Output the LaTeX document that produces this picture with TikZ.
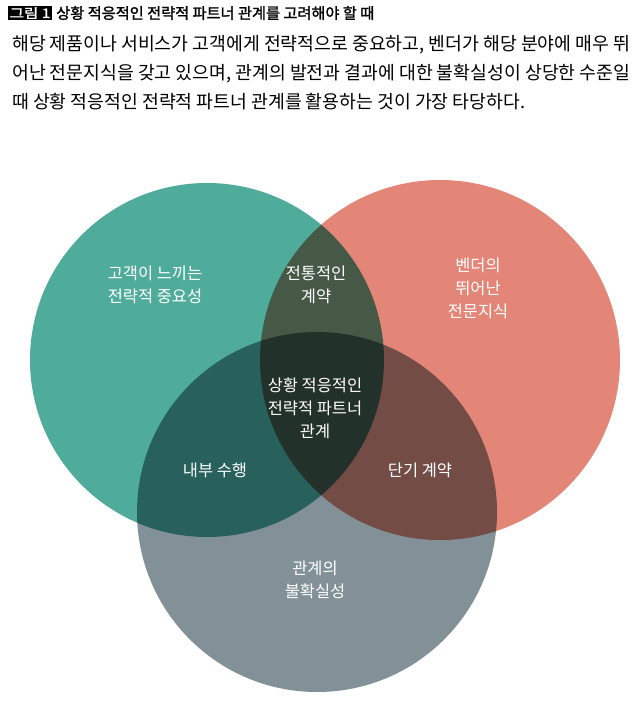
\documentclass[tikz,border=0pt]{standalone}
\usepackage{fontspec}
\usetikzlibrary{positioning}
\setmainfont{Noto Sans CJK KR}
\newfontfamily\krbold{Noto Sans CJK KR}[FakeBold=1.5]
\tikzset{
  venn/.style={draw=none,blend mode=multiply},
  label/.style={text=white,align=center,font=\fontsize{16.5}{23}\selectfont},
  body/.style={anchor=west,inner sep=0pt,font=\fontsize{17.5}{20}\selectfont}
}
\begin{document}
\begin{tikzpicture}[x=1bp,y=-1bp]
        \useasboundingbox (0,0) rectangle (640,705);
        \fill[white] (0,0) rectangle (640,705);

        % title
        \node[fill=black,text=white,inner sep=1.5pt,anchor=west,font=\krbold\fontsize{13}{14}\selectfont] (fig) at (8,13) {\scalebox{1.2}[1]{그림 1}};
        \node[right=4bp of fig,inner sep=0pt,font=\krbold\fontsize{13}{14}\selectfont] (title) {\resizebox{318bp}{!}{상황 적응적인 전략적 파트너 관계를 고려해야 할 때}};

        % body text
        \node[body] (l1) at (12,45) {\resizebox{618bp}{!}{해당 제품이나 서비스가 고객에게 전략적으로 중요하고, 벤더가 해당 분야에 매우 뛰}};
        \node[body] (l2) at (12,74) {\resizebox{618bp}{!}{어난 전문지식을 갖고 있으며, 관계의 발전과 결과에 대한 불확실성이 상당한 수준일}};
        \node[body] (l3) at (12,102) {\resizebox{513bp}{!}{때 상황 적응적인 전략적 파트너 관계를 활용하는 것이 가장 타당하다.}};

        % circles
        \begin{scope}[transparency group]
        \fill[venn,fill={rgb,255:red,80;green,172;blue,154}] (207,360) circle (177);
        \fill[venn,fill={rgb,255:red,226;green,124;blue,108},fill opacity=0.92] (440,360) circle (180);
        \fill[venn,fill={rgb,255:red,120;green,136;blue,144},fill opacity=0.92] (317,512) circle (180);
        \end{scope}

        % labels
        \node[label] (cust) at (155,285) {고객이 느끼는\\전략적 중요성};
        \node[label] (vend) at (478,288) {벤더의\\뛰어난\\전문지식};
        \node[label] (trad) at (316,285) {전통적인\\계약};
        \node[label] (core) at (315,408) {상황 적응적인\\전략적 파트너\\관계};
        \node[label] (inhs) at (215,470) {내부 수행};
        \node[label] (shrt) at (420,470) {단기 계약};
        \node[label] (unc) at (315,580) {관계의\\불확실성};
\end{tikzpicture}
\end{document}
